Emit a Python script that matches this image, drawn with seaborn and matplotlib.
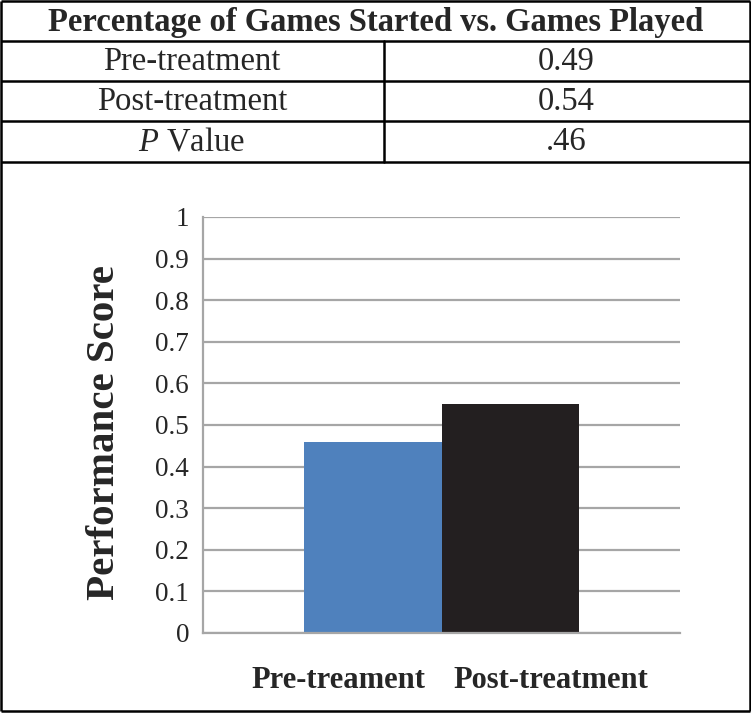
"""
Performance score chart: summary table on top, bar chart below.
"""

import numpy as np
import matplotlib
matplotlib.use("Agg")
import matplotlib.pyplot as plt
import matplotlib.transforms as mtransforms
import seaborn as sns

# ──────────────────────────────────────────────────────────
#  Data
# ──────────────────────────────────────────────────────────
TITLE       = "Percentage of Games Started vs. Games Played"
ROW_NAMES   = ["Pre-treatment", "Post-treatment", r"$\mathit{P}$ Value"]
ROW_VALUES  = ["0.49", "0.54", ".46"]

categories  = ["Pre-treament", "Post-treatment"]
scores      = [0.46, 0.55]
bar_colors  = ["#4F81BD", "#231F20"]

y_ticks       = [0, 0.1, 0.2, 0.3, 0.4, 0.5, 0.6, 0.7, 0.8, 0.9, 1.0]
y_tick_labels = ["0", "0.1", "0.2", "0.3", "0.4", "0.5", "0.6", "0.7", "0.8", "0.9", "1"]

# ──────────────────────────────────────────────────────────
#  Style
# ──────────────────────────────────────────────────────────
sns.set_style("white")
plt.rcParams["font.family"] = ["Liberation Serif", "DejaVu Serif"]
plt.rcParams["mathtext.fontset"] = "custom"
plt.rcParams["mathtext.rm"] = "Liberation Serif"
plt.rcParams["mathtext.it"] = "Liberation Serif:italic"

GRID_C = "#A6A6A6"
W, H   = 751, 713

fig = plt.figure(figsize=(W / 100, H / 100), dpi=100)

# overlay in pixel coords for the table frame
frame = fig.add_axes([0, 0, 1, 1], zorder=0)
frame.set_xlim(0, W)
frame.set_ylim(H, 0)
frame.axis("off")

lw = 1.8
for yy in [1, 41, 81, 121, 162, 711]:
    frame.plot([1, 749.5], [yy, yy], color="black", lw=lw, solid_capstyle="butt")
for xx in [1, 749.5]:
    frame.plot([xx, xx], [1, 711], color="black", lw=lw, solid_capstyle="butt")
frame.plot([384, 384], [41, 162], color="black", lw=lw)

frame.text(W / 2, 22, TITLE, ha="center", va="center", fontsize=23.5, fontweight="bold")
row_centers = [62, 102, 142]
for name, val, yc in zip(ROW_NAMES, ROW_VALUES, row_centers):
    frame.text(192, yc, name, ha="center", va="center", fontsize=23.5)
    frame.text(566, yc, val, ha="center", va="center", fontsize=23.5)

# ──────────────────────────────────────────────────────────
#  Bar chart
# ──────────────────────────────────────────────────────────
ax = fig.add_axes([203 / W, 1 - 633 / H, (680 - 203) / W, (633 - 217) / H], zorder=1)
ax.patch.set_alpha(0)

sns.barplot(
    x=categories, y=scores, hue=categories, palette=bar_colors,
    width=1.0, legend=False, saturation=1, linewidth=0, ax=ax,
)

ax.set_xlim(-1.24, 2.24)
ax.set_ylim(0, 1)
ax.set_yticks(y_ticks)
ax.set_yticklabels(y_tick_labels, fontsize=19.5)
ax.tick_params(axis="y", length=0, pad=10)
ax.set_xticks([])
ax.set_xlabel("")

ax.yaxis.grid(True, color=GRID_C, lw=1.6)
ax.xaxis.grid(False)
ax.set_axisbelow(True)
for side in ["top", "right"]:
    ax.spines[side].set_visible(False)
for side in ["left", "bottom"]:
    ax.spines[side].set_color(GRID_C)
    ax.spines[side].set_linewidth(1.6)

ax.set_ylabel("Performance Score", fontsize=29.5, fontweight="bold")
ax.yaxis.set_label_coords(-0.168, 0.483)

# category labels sit under the bars, a bit spread out
trans = mtransforms.blended_transform_factory(ax.transData, ax.transAxes)
for label, xpos in zip(categories, [-0.25, 1.30]):
    ax.text(xpos, -0.113, label, transform=trans, ha="center", va="center",
            fontsize=22, fontweight="bold")

fig.savefig("out.png", dpi=100)
plt.close(fig)
